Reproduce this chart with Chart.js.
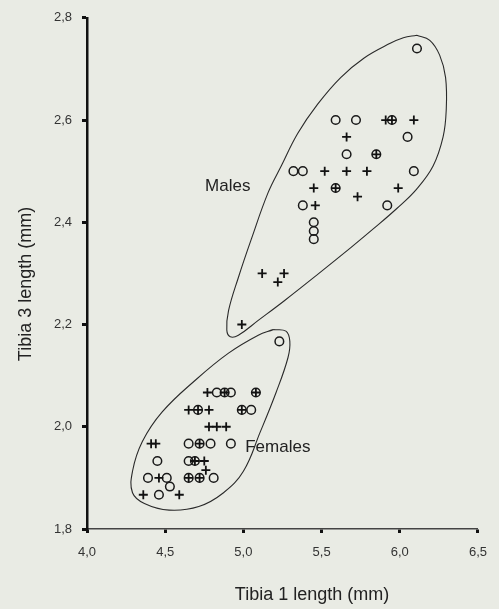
<!DOCTYPE html>
<html>
<head>
<meta charset="utf-8">
<script src="https://cdn.jsdelivr.net/npm/chart.js@4.4.1/dist/chart.umd.min.js"></script>
<style>
  html, body { margin: 0; padding: 0; background: #e9ebe4; }
  #wrap { width: 499px; height: 609px; position: relative; }
</style>
</head>
<body>
<div id="wrap"><canvas id="tibiaChart"></canvas></div>
<script>
// axis ticks
const xTicks = [4.0, 4.5, 5.0, 5.5, 6.0, 6.5];
const yTicks = [1.8, 2.0, 2.2, 2.4, 2.6, 2.8];

// males [tibia1, tibia3]
const maleCircles = [
  [6.11, 2.74], [5.59, 2.6], [5.72, 2.6], [5.95, 2.6], [6.05, 2.567],
  [5.66, 2.533], [5.85, 2.533], [5.32, 2.5], [5.38, 2.5], [6.09, 2.5],
  [5.59, 2.467], [5.38, 2.433], [5.92, 2.433],
  [5.45, 2.4], [5.45, 2.383], [5.45, 2.367]
];
const malePlus = [
  [5.91, 2.6], [5.95, 2.6], [6.09, 2.6], [5.66, 2.567], [5.85, 2.533],
  [5.52, 2.5], [5.66, 2.5], [5.79, 2.5], [5.45, 2.467], [5.59, 2.467],
  [5.99, 2.467], [5.73, 2.45], [5.46, 2.433],
  [5.12, 2.3], [5.26, 2.3], [5.22, 2.283], [4.99, 2.2]
];

// females
const femaleCircles = [
  [5.23, 2.167],
  [4.83, 2.067], [4.88, 2.067], [4.92, 2.067], [5.08, 2.067],
  [4.71, 2.033], [4.99, 2.033], [5.05, 2.033],
  [4.65, 1.967], [4.72, 1.967], [4.79, 1.967], [4.92, 1.967],
  [4.45, 1.933], [4.65, 1.933], [4.69, 1.933],
  [4.39, 1.9], [4.51, 1.9], [4.65, 1.9], [4.72, 1.9], [4.81, 1.9],
  [4.53, 1.883], [4.46, 1.867]
];
const femalePlus = [
  [4.77, 2.067], [4.88, 2.067], [5.08, 2.067],
  [4.65, 2.033], [4.71, 2.033], [4.78, 2.033], [4.99, 2.033],
  [4.78, 2.0], [4.83, 2.0], [4.89, 2.0],
  [4.41, 1.967], [4.44, 1.967], [4.72, 1.967],
  [4.69, 1.933], [4.75, 1.933], [4.76, 1.915],
  [4.46, 1.9], [4.65, 1.9], [4.72, 1.9],
  [4.36, 1.867], [4.59, 1.867]
];

// hand drawn group outlines
const maleOutline = [
  [6.108, 2.766], [6.192, 2.756], [6.255, 2.727], [6.293, 2.683], [6.297, 2.619],
  [6.277, 2.567], [6.213, 2.51], [6.108, 2.465], [5.981, 2.427], [5.834, 2.388],
  [5.685, 2.35], [5.475, 2.298], [5.264, 2.247], [5.095, 2.208], [4.968, 2.179],
  [4.916, 2.176], [4.894, 2.189], [4.905, 2.227], [4.968, 2.292], [5.053, 2.369],
  [5.158, 2.458], [5.242, 2.51], [5.348, 2.574], [5.475, 2.631], [5.622, 2.683],
  [5.77, 2.721], [5.939, 2.75], [6.023, 2.761], [6.108, 2.766]
];
const femaleOutline = [
  [5.19, 2.19], [5.095, 2.179], [4.905, 2.144], [4.696, 2.092], [4.481, 2.029],
  [4.354, 1.971], [4.291, 1.913], [4.291, 1.871], [4.367, 1.85], [4.525, 1.837],
  [4.715, 1.844], [4.873, 1.871], [5.0, 1.913], [5.108, 1.99], [5.209, 2.067],
  [5.285, 2.135], [5.297, 2.167], [5.272, 2.187], [5.19, 2.19]
];

const groupLabels = ['Males', 'Females'];

const toPts = arr => arr.map(p => ({ x: p[0], y: p[1] }));
const comma = v => Number(v).toFixed(1).replace('.', ',');

const FONT = "'Liberation Sans', Arial, sans-serif";

// texts drawn on top: group names and axis titles
const textPlugin = {
  id: 'texts',
  afterDatasetsDraw(chart) {
    const { ctx, scales: { x, y } } = chart;
    ctx.save();
    ctx.fillStyle = '#222';
    ctx.font = '17px ' + FONT;
    ctx.textAlign = 'center';
    ctx.textBaseline = 'middle';
    ctx.fillText(groupLabels[0], x.getPixelForValue(4.9), y.getPixelForValue(2.47));
    ctx.fillText(groupLabels[1], x.getPixelForValue(5.22), y.getPixelForValue(1.96));

    ctx.font = '18px ' + FONT;
    ctx.fillText('Tibia 1 length (mm)', 312, 595);
    ctx.translate(26, 284);
    ctx.rotate(-Math.PI / 2);
    ctx.fillText('Tibia 3 length (mm)', 0, 0);
    ctx.restore();
  }
};

const outlineStyle = {
  showLine: true, fill: false, pointRadius: 0, borderWidth: 1.1,
  borderColor: '#2a2a2a', tension: 0.4, order: 2
};
const circleStyle = {
  pointStyle: 'circle', pointRadius: 4.3, borderWidth: 1.5,
  borderColor: '#1a1a1a', backgroundColor: 'rgba(0,0,0,0)', order: 1
};
const plusStyle = {
  pointStyle: 'cross', pointRadius: 4.5, borderWidth: 1.8,
  borderColor: '#111', order: 0
};

new Chart(document.getElementById('tibiaChart'), {
  type: 'scatter',
  data: {
    datasets: [
      Object.assign({ label: 'male outline', data: toPts(maleOutline) }, outlineStyle),
      Object.assign({ label: 'female outline', data: toPts(femaleOutline) }, outlineStyle),
      Object.assign({ label: 'males O', data: toPts(maleCircles) }, circleStyle),
      Object.assign({ label: 'females O', data: toPts(femaleCircles) }, circleStyle),
      Object.assign({ label: 'males +', data: toPts(malePlus) }, plusStyle),
      Object.assign({ label: 'females +', data: toPts(femalePlus) }, plusStyle)
    ]
  },
  options: {
    responsive: true,
    maintainAspectRatio: false,
    animation: false,
    layout: { padding: { top: 13, right: 17, left: 0, bottom: 0 } },
    plugins: { legend: { display: false }, tooltip: { enabled: false } },
    scales: {
      x: {
        type: 'linear', min: 4.0, max: 6.5,
        afterBuildTicks: s => { s.ticks = xTicks.map(v => ({ value: v })); },
        afterFit: s => { s.height = 80; },
        border: { color: '#444', width: 1.5 },
        grid: { drawOnChartArea: false, tickLength: 4, tickWidth: 3, tickColor: '#111' },
        ticks: { callback: comma, color: '#333', font: { family: FONT, size: 13 }, padding: 12, maxRotation: 0 }
      },
      y: {
        type: 'linear', min: 1.8, max: 2.8,
        afterBuildTicks: s => { s.ticks = yTicks.map(v => ({ value: v })); },
        afterFit: s => { s.width = 87; },
        border: { color: '#111', width: 2.5 },
        grid: { drawOnChartArea: false, tickLength: 5, tickWidth: 3, tickColor: '#111' },
        ticks: { callback: comma, color: '#333', font: { family: FONT, size: 13 }, padding: 10 }
      }
    }
  },
  plugins: [textPlugin]
});
</script>
</body>
</html>
